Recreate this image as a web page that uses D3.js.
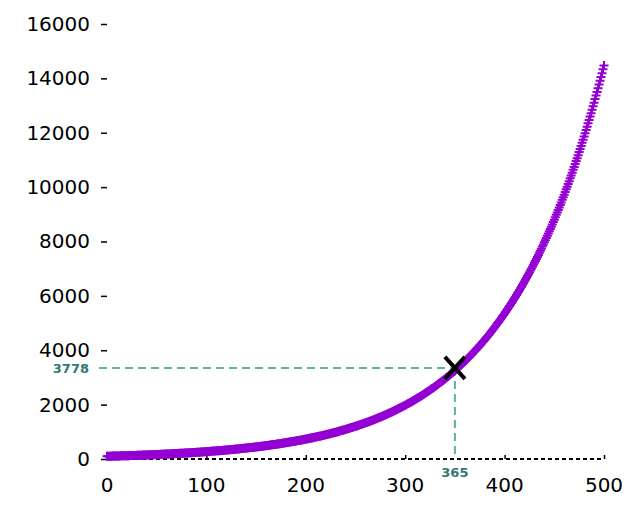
<!DOCTYPE html>
<html>
<head>
<meta charset="utf-8">
<script src="https://cdn.jsdelivr.net/npm/d3@7"></script>
<style>
  html, body { margin: 0; padding: 0; background: #fff; }
  svg { display: block; }
  text { font-family: "DejaVu Sans", sans-serif; }
</style>
</head>
<body>
<svg id="chart" width="640" height="512"></svg>
<script>
// value per day (day = index 0..500)
const values = [
100,101,102,103,104,105,106,107,108,109,
110,112,113,114,115,116,117,118,120,121,
122,123,124,126,127,128,130,131,132,133,
135,136,137,139,140,142,143,145,146,147,
149,150,152,153,155,156,158,160,161,163,
164,166,168,169,171,173,175,176,178,180,
182,183,185,187,189,191,193,195,197,199,
201,203,205,207,209,211,213,215,217,219,
222,224,226,228,231,233,235,238,240,242,
245,247,250,252,255,257,260,263,265,268,
270,273,276,279,281,284,287,290,293,296,
299,302,305,308,311,314,317,320,324,327,
330,333,337,340,343,347,350,354,357,361,
365,368,372,376,379,383,387,391,395,399,
403,407,411,415,419,423,427,432,436,440,
445,449,454,458,463,468,472,477,482,487,
491,496,501,506,511,516,522,527,532,537,
543,548,554,559,565,570,576,582,588,594,
600,606,612,618,624,630,636,643,649,656,
662,669,676,682,689,696,703,710,717,724,
732,739,746,754,761,769,777,784,792,800,
808,816,824,833,841,849,858,866,875,884,
893,902,911,920,929,938,948,957,967,976,
986,996,1006,1016,1026,1036,1047,1057,1068,1078,
1089,1100,1111,1122,1133,1145,1156,1168,1180,1191,
1203,1215,1227,1240,1252,1265,1277,1290,1303,1316,
1329,1342,1356,1369,1383,1397,1411,1425,1439,1454,
1468,1483,1498,1513,1528,1543,1558,1574,1590,1606,
1622,1638,1654,1671,1688,1704,1722,1739,1756,1774,
1791,1809,1827,1846,1864,1883,1902,1921,1940,1959,
1979,1999,2019,2039,2059,2080,2101,2122,2143,2164,
2186,2208,2230,2252,2275,2297,2320,2344,2367,2391,
2415,2439,2463,2488,2513,2538,2563,2589,2615,2641,
2667,2694,2721,2748,2775,2803,2831,2860,2888,2917,
2946,2976,3005,3036,3066,3097,3127,3159,3190,3222,
3254,3287,3320,3353,3387,3420,3455,3489,3524,3559,
3595,3631,3667,3704,3741,3778,3816,3854,3893,3932,
3971,4011,4051,4091,4132,4174,4215,4258,4300,4343,
4387,4430,4475,4519,4565,4610,4656,4703,4750,4797,
4845,4894,4943,4992,5042,5093,5144,5195,5247,5299,
5352,5406,5460,5515,5570,5625,5682,5739,5796,5854,
5912,5972,6031,6092,6152,6214,6276,6339,6402,6466,
6531,6596,6662,6729,6796,6864,6933,7002,7072,7143,
7214,7286,7359,7433,7507,7582,7658,7735,7812,7890,
7969,8049,8129,8210,8293,8376,8459,8544,8629,8716,
8803,8891,8980,9069,9160,9252,9344,9438,9532,9627,
9724,9821,9919,10018,10119,10220,10322,10425,10529,10635,
10741,10848,10957,11066,11177,11289,11402,11516,11631,11747,
11865,11983,12103,12224,12347,12470,12595,12721,12848,12976,
13106,13237,13370,13503,13638,13775,13912,14051,14192,14334,
14477
];
const xTicks = [0, 100, 200, 300, 400, 500];
const yTicks = [0, 2000, 4000, 6000, 8000, 10000, 12000, 14000, 16000];
// annotation: drawn position and its label texts
const markPos = [350, 3350];
const markLabelX = "365";
const markLabelY = "3778";

const svg = d3.select("#chart");
const x = d3.scaleLinear().domain([0, 500]).range([107, 604]);
const y = d3.scaleLinear().domain([0, 16000]).range([459, 24]);

const teal = "#5eb1a6";
const tealText = "#337873";
const purple = "#9400d3";

// dashed guide lines
svg.append("line")
  .attr("x1", 99).attr("x2", x(markPos[0]))
  .attr("y1", y(markPos[1])).attr("y2", y(markPos[1]))
  .attr("stroke", teal).attr("stroke-width", 2).attr("stroke-dasharray", "8,5");
svg.append("line")
  .attr("x1", x(markPos[0])).attr("x2", x(markPos[0]))
  .attr("y1", y(markPos[1])).attr("y2", y(0))
  .attr("stroke", teal).attr("stroke-width", 2).attr("stroke-dasharray", "8,5");

// x axis (dotted baseline with small upward ticks)
const xAxis = d3.axisTop(x).tickValues(xTicks).tickSize(4).tickFormat("");
const gx = svg.append("g").attr("transform", `translate(0,${y(0)})`).call(xAxis);
gx.select(".domain").remove();
gx.selectAll(".tick line").attr("stroke", "#000").attr("stroke-width", 1.5);
svg.append("line")
  .attr("x1", x(0)).attr("x2", x(500))
  .attr("y1", y(0)).attr("y2", y(0))
  .attr("stroke", "#000").attr("stroke-width", 2).attr("stroke-dasharray", "4,3");
svg.append("g").selectAll("text").data(xTicks).join("text")
  .attr("x", d => x(d)).attr("y", 492)
  .attr("text-anchor", "middle").attr("font-size", 20).attr("fill", "#000")
  .text(d => d);

// y axis ticks and labels
const yAxis = d3.axisLeft(y).tickValues(yTicks).tickSize(6).tickPadding(11)
  .tickFormat(d3.format("d"));
const gy = svg.append("g").attr("transform", `translate(107,0)`).call(yAxis);
gy.select(".domain").remove();
gy.selectAll(".tick line").attr("stroke", "#000").attr("stroke-width", 1.5);
gy.selectAll(".tick text").attr("font-size", 20).attr("fill", "#000")
  .attr("font-family", "DejaVu Sans, sans-serif");

// data points as "+"
svg.append("g").selectAll("path").data(values).join("path")
  .attr("transform", (d, i) => `translate(${x(i)},${y(d)})`)
  .attr("d", "M-4.5,0H4.5M0,-4.5V4.5")
  .attr("stroke", purple).attr("stroke-width", 2).attr("fill", "none");

// annotation X marker
const mx = x(markPos[0]), my = y(markPos[1]);
svg.append("path")
  .attr("d", `M${mx-10},${my-11}L${mx+10},${my+11}M${mx+10},${my-11}L${mx-10},${my+11}`)
  .attr("stroke", "#000").attr("stroke-width", 4).attr("fill", "none");

// annotation labels
svg.append("text").attr("x", 89).attr("y", my + 1).attr("dy", "0.35em")
  .attr("text-anchor", "end").attr("font-size", 13).attr("font-weight", "bold")
  .attr("fill", tealText).text(markLabelY);
svg.append("text").attr("x", mx).attr("y", 477)
  .attr("text-anchor", "middle").attr("font-size", 13).attr("font-weight", "bold")
  .attr("fill", tealText).text(markLabelX);
</script>
</body>
</html>
